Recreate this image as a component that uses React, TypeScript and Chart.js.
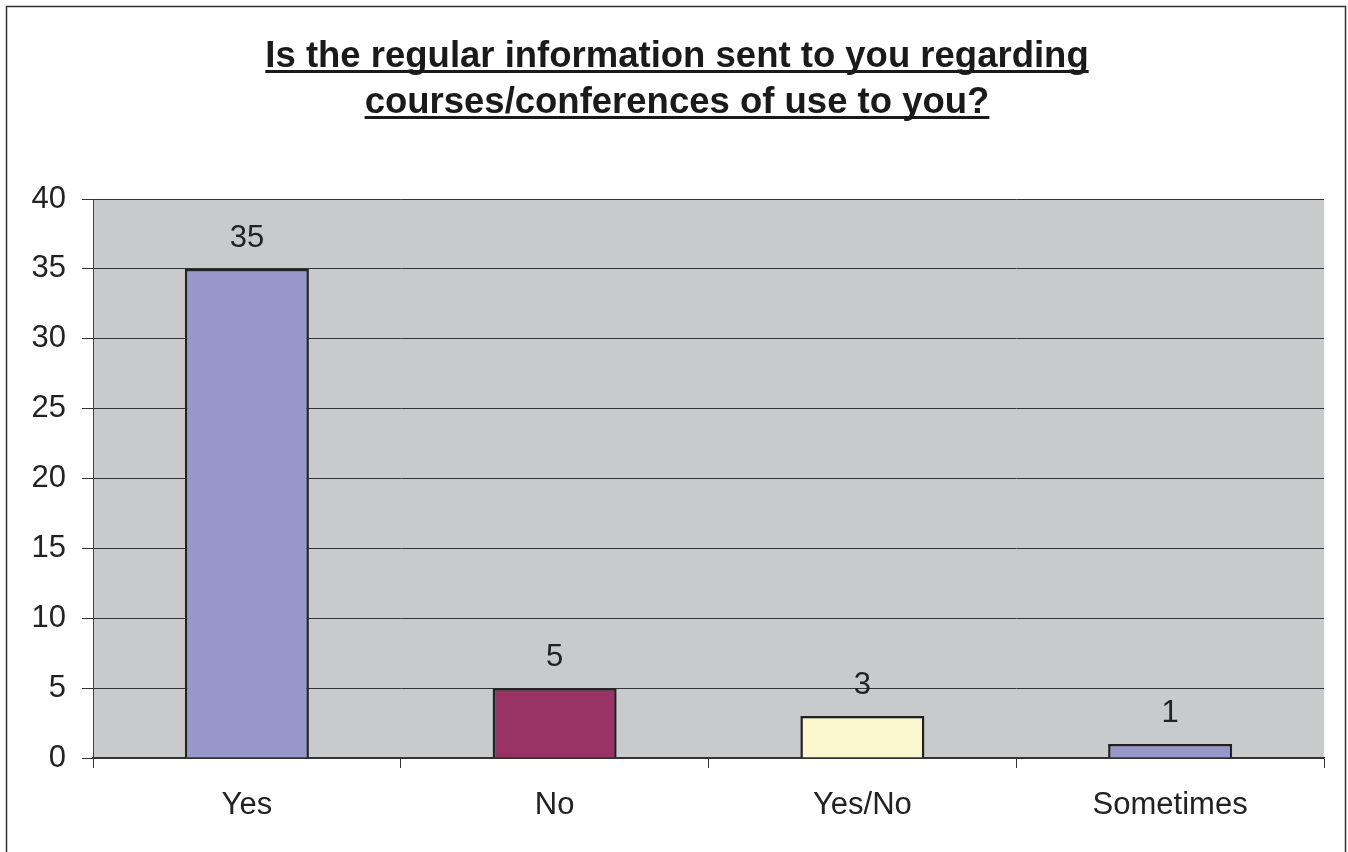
import React, { useEffect, useRef } from "react";
import { Chart, registerables } from "chart.js";

Chart.register(...registerables);

const categories = ["Yes", "No", "Yes/No", "Sometimes"];
const values = [35, 5, 3, 1];
const barColors = ["#9797CB", "#993366", "#FAF7CE", "#9797CB"];
const titleLines = [
  "Is the regular information sent to you regarding",
  "courses/conferences of use to you?",
];
const yMin = 0;
const yMax = 40;
const yStep = 5;

const FONT = "'Liberation Sans', Arial, sans-serif";

const framePlugin = {
  id: "framePlugin",
  beforeDraw(chart: any) {
    const { ctx, chartArea } = chart;
    ctx.save();
    ctx.fillStyle = "#ffffff";
    ctx.fillRect(0, 0, chart.width, chart.height);
    ctx.fillStyle = "#C9CACC";
    ctx.fillRect(
      chartArea.left,
      chartArea.top,
      chartArea.right - chartArea.left,
      chartArea.bottom - chartArea.top
    );
    ctx.restore();
  },
  afterDraw(chart: any) {
    const { ctx } = chart;
    ctx.save();
    // outer border
    ctx.strokeStyle = "#333333";
    ctx.lineWidth = 1.5;
    ctx.strokeRect(6.5, 6.5, 1339, 870);
    // title with underline
    ctx.fillStyle = "#1a1a1a";
    ctx.font = `bold 36.5px ${FONT}`;
    ctx.textAlign = "center";
    ctx.textBaseline = "alphabetic";
    const cx = 677;
    const baselines = [67, 113];
    titleLines.forEach((line, i) => {
      const y = baselines[i];
      ctx.fillText(line, cx, y);
      const w = ctx.measureText(line).width;
      ctx.fillRect(cx - w / 2, y + 3, w, 3);
    });
    ctx.restore();
  },
  afterDatasetsDraw(chart: any) {
    const { ctx } = chart;
    const meta = chart.getDatasetMeta(0);
    ctx.save();
    ctx.fillStyle = "#222222";
    ctx.font = `31px ${FONT}`;
    ctx.textAlign = "center";
    ctx.textBaseline = "alphabetic";
    meta.data.forEach((bar: any, i: number) => {
      ctx.fillText(String(values[i]), bar.x, bar.y - 22);
    });
    ctx.restore();
  },
};

export default function App() {
  const ref = useRef<HTMLCanvasElement | null>(null);
  useEffect(() => {
    document.body.style.margin = "0";
    const chart = new Chart(ref.current as HTMLCanvasElement, {
      type: "bar",
      data: {
        labels: categories,
        datasets: [
          {
            data: values,
            backgroundColor: barColors,
            borderColor: "#222222",
            borderWidth: 2.5,
            barPercentage: 0.403,
            categoryPercentage: 1,
          },
        ],
      },
      options: {
        responsive: false,
        animation: false,
        devicePixelRatio: 1,
        layout: { padding: { left: 0, top: 199, right: 24, bottom: 0 } },
        plugins: {
          legend: { display: false },
          title: { display: false },
          tooltip: { enabled: false },
        },
        scales: {
          x: {
            grid: {
              offset: true,
              drawOnChartArea: false,
              drawTicks: true,
              tickLength: 10,
              color: "#333333",
              lineWidth: 1,
            },
            border: { display: true, color: "#333333", width: 1.5 },
            ticks: {
              color: "#222222",
              font: { family: FONT, size: 31 },
              padding: 19,
            },
            afterFit(scale: any) {
              scale.height = 852 - 758;
            },
          },
          y: {
            min: yMin,
            max: yMax,
            ticks: {
              stepSize: yStep,
              color: "#222222",
              font: { family: FONT, size: 31 },
              padding: 16,
            },
            grid: {
              color: "#333333",
              lineWidth: 1,
              tickLength: 11,
            },
            border: { display: true, color: "#444444", width: 1 },
            afterFit(scale: any) {
              scale.width = 93;
            },
          },
        },
      },
      plugins: [framePlugin],
    });
    return () => chart.destroy();
  }, []);
  return (
    <div style={{ position: "absolute", left: 0, top: 0, width: 1348, height: 852 }}>
      <canvas ref={ref} width={1348} height={852} />
    </div>
  );
}
